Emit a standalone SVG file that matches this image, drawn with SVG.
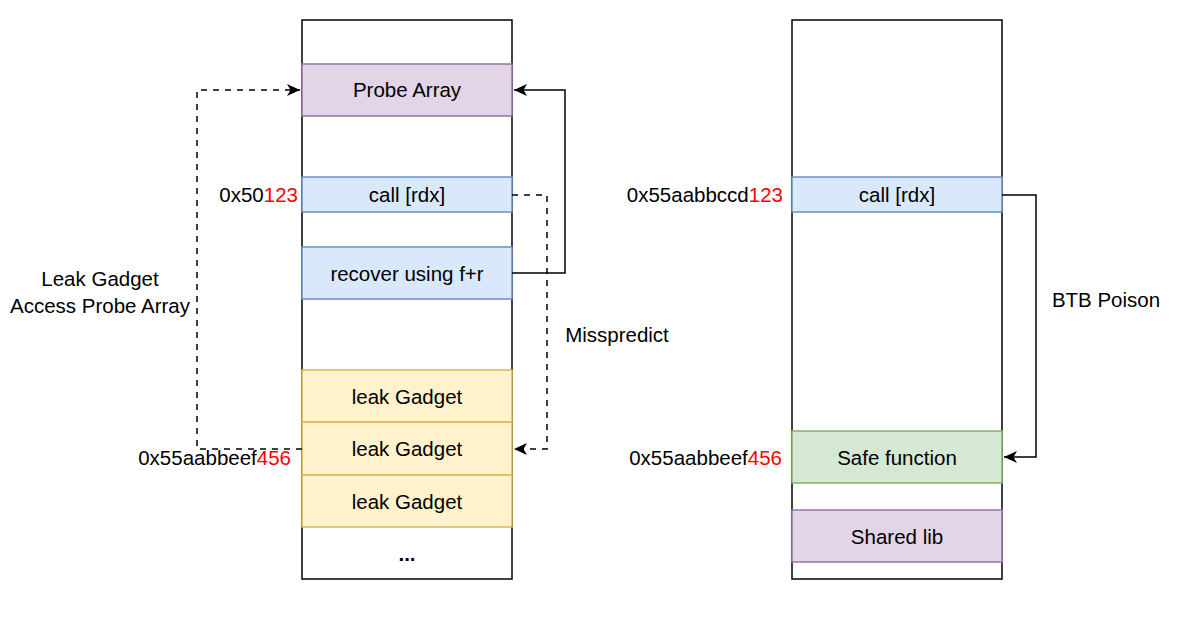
<svg xmlns="http://www.w3.org/2000/svg" width="1183" height="618" viewBox="0 0 1183 618">
<defs>
<marker id="arr" markerWidth="14" markerHeight="14" refX="13" refY="7" orient="auto" markerUnits="userSpaceOnUse">
<path d="M0,1 L13,7 L0,13 L3.5,7 Z" fill="#000"/>
</marker>
<style>
text{font-family:"Liberation Sans",Arial,sans-serif;font-size:20.5px;fill:#000}
.c{text-anchor:middle;dominant-baseline:central}
.r{text-anchor:end;dominant-baseline:central}
.red{fill:#FF0000}
.col{fill:#fff;stroke:#000;stroke-width:1.5}
.purple{fill:#e1d5e7;stroke:#9673a6;stroke-width:1.5}
.blue{fill:#dae8fc;stroke:#6c8ebf;stroke-width:1.5}
.yellow{fill:#fff2cc;stroke:#d6b656;stroke-width:1.5}
.green{fill:#d5e8d4;stroke:#82b366;stroke-width:1.5}
.ln{fill:none;stroke:#000;stroke-width:1.5}
.dash{stroke-dasharray:6 6}
</style>
</defs>
<rect width="1183" height="618" fill="#fff"/>
<g id="left-memory"><rect class="col" x="302" y="20" width="210" height="559"/></g>
<g id="right-memory"><rect class="col" x="792" y="20" width="210" height="559"/></g>
<g id="probe-array"><rect class="purple" x="302" y="64" width="210" height="52"/><text class="c" x="407" y="89">Probe Array</text></g>
<g id="call-left"><rect class="blue" x="302" y="177" width="210" height="35"/><text class="c" x="407" y="194">call [rdx]</text></g>
<g id="recover"><rect class="blue" x="302" y="247" width="210" height="52"/><text class="c" x="407" y="273">recover using f+r</text></g>
<g id="leak1"><rect class="yellow" x="302" y="370" width="210" height="52"/><text class="c" x="407" y="396">leak Gadget</text></g>
<g id="leak2"><rect class="yellow" x="302" y="422" width="210" height="53"/><text class="c" x="407" y="448">leak Gadget</text></g>
<g id="leak3"><rect class="yellow" x="302" y="475" width="210" height="52"/><text class="c" x="407" y="501">leak Gadget</text></g>
<g id="dots"><text class="c" x="407" y="553" style="font-weight:bold">...</text></g>
<g id="call-right"><rect class="blue" x="792" y="177" width="210" height="35"/><text class="c" x="897" y="194">call [rdx]</text></g>
<g id="safe-function"><rect class="green" x="792" y="431" width="210" height="52"/><text class="c" x="897" y="457">Safe function</text></g>
<g id="shared-lib"><rect class="purple" x="792" y="510" width="210" height="52"/><text class="c" x="897" y="536">Shared lib</text></g>
<g id="addresses">
<text class="r" x="298" y="194">0x50<tspan class="red">123</tspan></text>
<text class="r" x="291" y="457">0x55aabbeef<tspan class="red">456</tspan></text>
<text class="r" x="783" y="194">0x55aabbccd<tspan class="red">123</tspan></text>
<text class="r" x="782" y="457">0x55aabbeef<tspan class="red">456</tspan></text>
</g>
<g id="connectors">
<path class="ln dash" d="M302,449 H197 V90 H300" marker-end="url(#arr)"/>
<path class="ln" d="M512,273 H565 V90 H514" marker-end="url(#arr)"/>
<path class="ln dash" d="M512,195 H547 V449 H514" marker-end="url(#arr)"/>
<path class="ln" d="M1002,195 H1036 V457 H1004" marker-end="url(#arr)"/>
</g>
<g id="labels">
<text class="c" x="100" y="278">Leak Gadget</text>
<text class="c" x="100" y="305">Access Probe Array</text>
<text class="c" x="617" y="334">Misspredict</text>
<text class="c" x="1106" y="299">BTB Poison</text>
</g>
</svg>
